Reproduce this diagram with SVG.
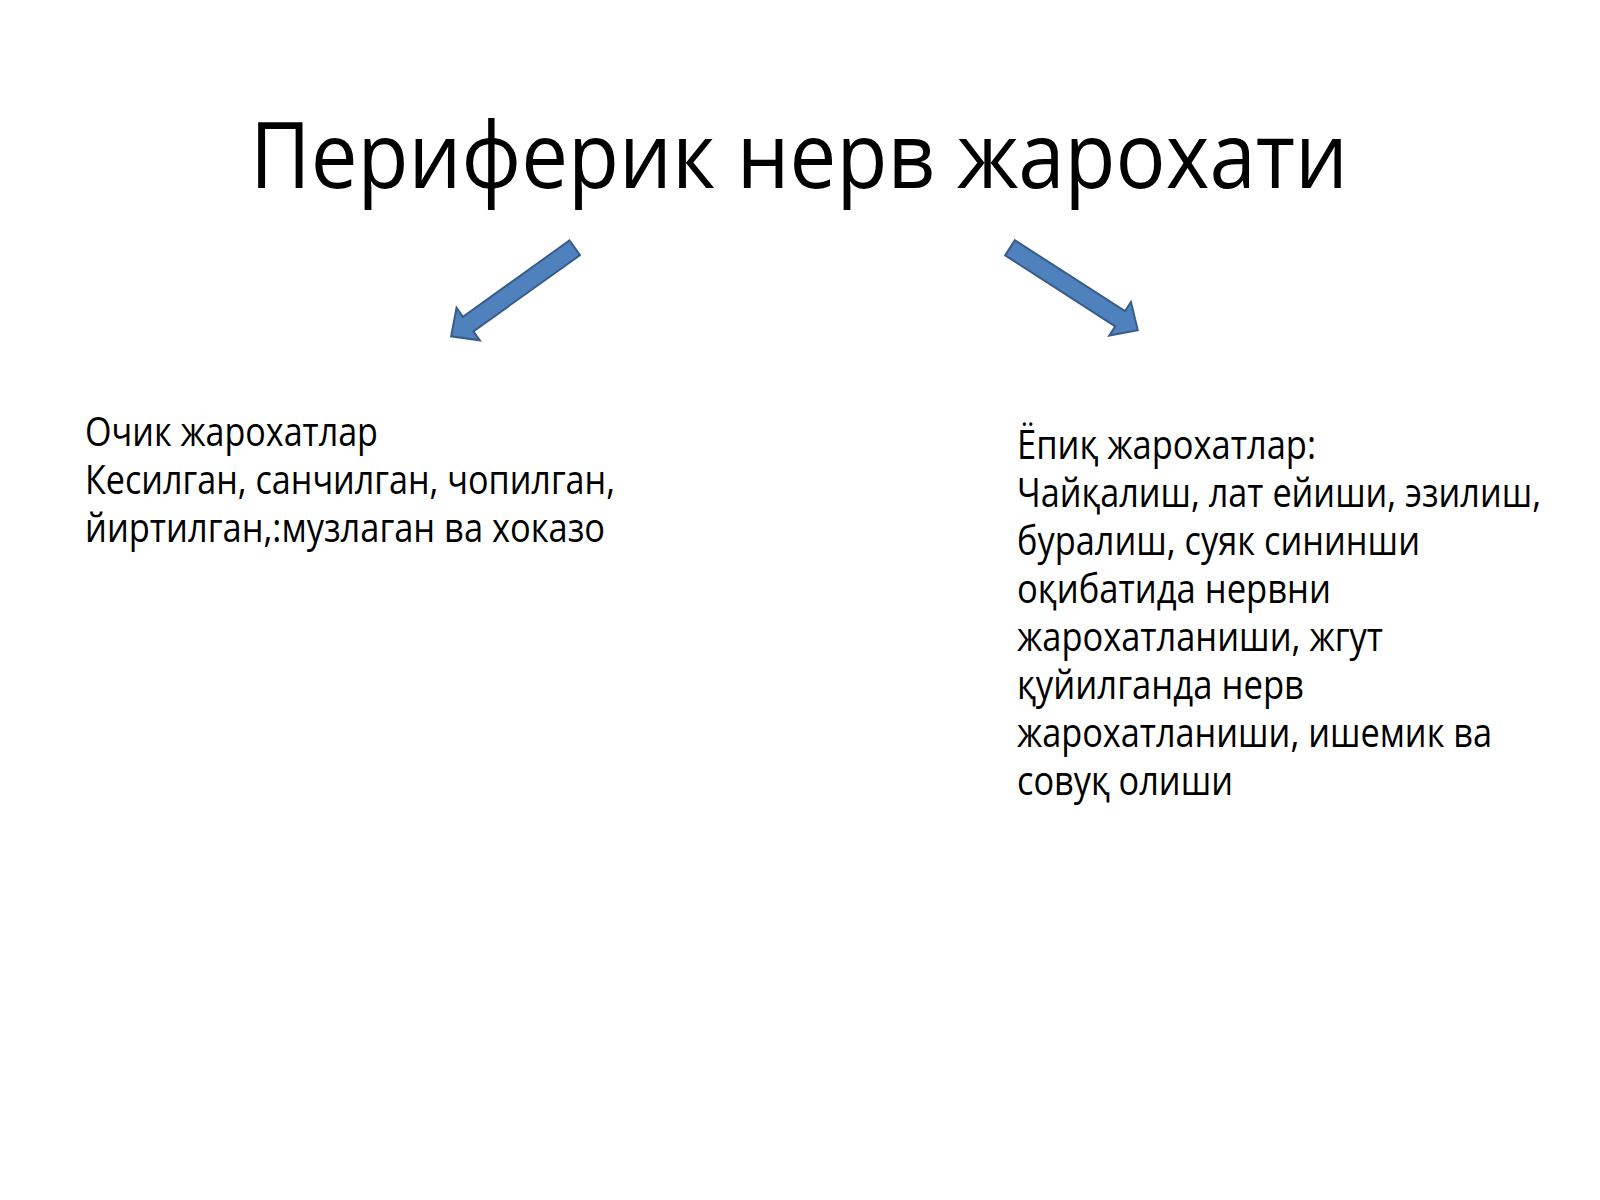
<svg xmlns="http://www.w3.org/2000/svg" width="1600" height="1200" viewBox="0 0 1600 1200">
<defs>
<style>
.t{font-family:"Open Sans","Noto Sans","DejaVu Sans",sans-serif;fill:#000}
.title{font-size:92px}
.body{font-size:40px}
.arrow{fill:#4F81BD;stroke:#385D8A;stroke-width:2;stroke-linejoin:miter}
</style>
<path id="arr" d="M0,-9 L131,-9 L131,-20 L152,0 L131,20 L131,9 L0,9 Z"/>
</defs>
<rect width="1600" height="1200" fill="#ffffff"/>
<g id="title">
<text class="t title" x="250" y="188" textLength="1098" lengthAdjust="spacingAndGlyphs">Периферик нерв жарохати</text>
</g>
<g id="connectors">
<use href="#arr" class="arrow" transform="translate(574.7,247.8) rotate(144.4)"/>
<use href="#arr" class="arrow" transform="translate(1010,247.8) rotate(32.8)"/>
</g>
<g id="open-injuries">
<text class="t body" x="85" y="446" textLength="293" lengthAdjust="spacingAndGlyphs">Очик жарохатлар</text>
<text class="t body" x="85" y="494" textLength="530" lengthAdjust="spacingAndGlyphs">Кесилган, санчилган, чопилган,</text>
<text class="t body" x="85" y="542" textLength="520" lengthAdjust="spacingAndGlyphs">йиртилган,:музлаган ва хоказо</text>
</g>
<g id="closed-injuries">
<text class="t body" x="1017" y="459" textLength="299" lengthAdjust="spacingAndGlyphs">Ёпиқ жарохатлар:</text>
<text class="t body" x="1017" y="507" textLength="524" lengthAdjust="spacingAndGlyphs">Чайқалиш, лат ейиши, эзилиш,</text>
<text class="t body" x="1017" y="555" textLength="403" lengthAdjust="spacingAndGlyphs">буралиш, суяк сининши</text>
<text class="t body" x="1017" y="603" textLength="314" lengthAdjust="spacingAndGlyphs">оқибатида нервни</text>
<text class="t body" x="1017" y="651" textLength="366" lengthAdjust="spacingAndGlyphs">жарохатланиши, жгут</text>
<text class="t body" x="1017" y="699" textLength="287" lengthAdjust="spacingAndGlyphs">қуйилганда нерв</text>
<text class="t body" x="1017" y="747" textLength="475" lengthAdjust="spacingAndGlyphs">жарохатланиши, ишемик ва</text>
<text class="t body" x="1017" y="795" textLength="216" lengthAdjust="spacingAndGlyphs">совуқ олиши</text>
</g>
</svg>
